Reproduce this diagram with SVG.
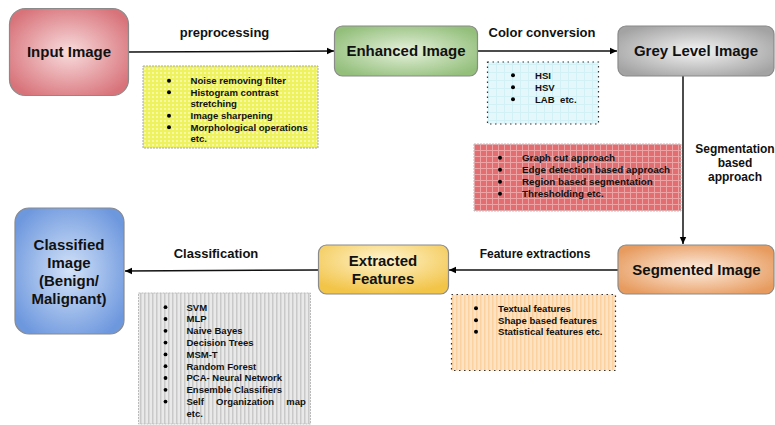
<svg xmlns="http://www.w3.org/2000/svg" width="775" height="425" viewBox="0 0 775 425">
<defs>
<radialGradient id="gPink" cx="50%" cy="50%" r="60%"><stop offset="0" stop-color="#f8dcdd"/><stop offset="1" stop-color="#d8737a"/></radialGradient>
<radialGradient id="gGreen" cx="50%" cy="50%" r="60%"><stop offset="0" stop-color="#e6f1dc"/><stop offset="1" stop-color="#93bf7b"/></radialGradient>
<radialGradient id="gGrey" cx="50%" cy="50%" r="60%"><stop offset="0" stop-color="#f4f4f4"/><stop offset="1" stop-color="#a3a3a3"/></radialGradient>
<radialGradient id="gOrange" cx="50%" cy="50%" r="60%"><stop offset="0" stop-color="#fdeee2"/><stop offset="1" stop-color="#e79b5e"/></radialGradient>
<radialGradient id="gYellow" cx="50%" cy="30%" r="70%"><stop offset="0" stop-color="#fff4cf"/><stop offset="1" stop-color="#f2c447"/></radialGradient>
<radialGradient id="gBlue" cx="50%" cy="50%" r="60%"><stop offset="0" stop-color="#d3e2f8"/><stop offset="1" stop-color="#6e98de"/></radialGradient>
<pattern id="pYel" width="4" height="4" patternUnits="userSpaceOnUse"><rect width="4" height="4" fill="#edf25e"/><rect width="2" height="2" fill="#f6f8a8"/></pattern>
<pattern id="pCyan" width="8" height="8" patternUnits="userSpaceOnUse"><rect width="8" height="8" fill="#e4f8fb"/><rect width="8" height="1" fill="#d2f1f6"/><rect width="1" height="8" fill="#d2f1f6"/></pattern>
<pattern id="pRed" width="6" height="6" patternUnits="userSpaceOnUse"><rect width="6" height="6" fill="#e36e72"/><rect width="6" height="1" fill="#eea3a5"/><rect width="1" height="6" fill="#eea3a5"/></pattern>
<pattern id="pOra" width="4" height="4" patternUnits="userSpaceOnUse"><rect width="4" height="4" fill="#fde3c3"/><rect width="1.5" height="4" fill="#fbd29f"/></pattern>
<pattern id="pGry" width="4" height="4" patternUnits="userSpaceOnUse"><rect width="4" height="4" fill="#e9e9e9"/><rect width="1.5" height="4" fill="#c9c9c9"/></pattern>
<marker id="arr" markerWidth="8" markerHeight="8" refX="7" refY="4" orient="auto" markerUnits="userSpaceOnUse"><path d="M0,0.8 L7,4 L0,7.2 Z" fill="#000"/></marker>
</defs>
<style>
.node{stroke:#8a8a8a;stroke-width:1.2}
.nt{font-family:"Liberation Sans",Arial,sans-serif;font-weight:bold;font-size:15px;fill:#111;text-anchor:middle}
.lbl{font-family:"Liberation Sans",Arial,sans-serif;font-weight:bold;font-size:13px;fill:#111;text-anchor:middle}
.li{font-family:"Liberation Sans",Arial,sans-serif;font-weight:bold;font-size:9.6px;fill:#111}
.bu circle{fill:#000}
.conn{stroke:#111;stroke-width:1.5;fill:none}
.dash{stroke:#aaa;stroke-width:1;stroke-dasharray:2 1}
.dot{stroke:#333;stroke-width:1.2;stroke-dasharray:1.5 3.5}
</style>

<g id="connectors">
<path class="conn" d="M129,52 L334,51" marker-end="url(#arr)"/>
<path class="conn" d="M478,51 L617,51" marker-end="url(#arr)"/>
<path class="conn" d="M683,76 L683,244" marker-end="url(#arr)"/>
<path class="conn" d="M618,270 L449,270" marker-end="url(#arr)"/>
<path class="conn" d="M318,270 L125,271" marker-end="url(#arr)"/>
<text class="lbl" x="224.5" y="37">preprocessing</text>
<text class="lbl" x="542" y="37">Color conversion</text>
<text class="lbl" x="735" y="153" style="font-size:12px">Segmentation</text>
<text class="lbl" x="735" y="167" style="font-size:12px">based</text>
<text class="lbl" x="735" y="181" style="font-size:12px">approach</text>
<text class="lbl" x="535" y="258" style="font-size:12px">Feature extractions</text>
<text class="lbl" x="216" y="258">Classification</text>
</g>

<g id="input-image">
<rect class="node" x="9.5" y="8.5" width="119" height="87" rx="16" fill="url(#gPink)"/>
<text class="nt" x="69" y="57">Input Image</text>
</g>
<g id="enhanced-image">
<rect class="node" x="334.5" y="26" width="143" height="50" rx="8" fill="url(#gGreen)"/>
<text class="nt" x="406" y="56">Enhanced Image</text>
</g>
<g id="grey-level-image">
<rect class="node" x="618" y="26" width="156" height="50" rx="8" fill="url(#gGrey)"/>
<text class="nt" x="696" y="56">Grey Level Image</text>
</g>
<g id="segmented-image">
<rect class="node" x="618" y="245" width="156" height="49" rx="8" fill="url(#gOrange)"/>
<text class="nt" x="696.5" y="275">Segmented Image</text>
</g>
<g id="extracted-features">
<rect class="node" x="318.5" y="245" width="130" height="49" rx="8" fill="url(#gYellow)"/>
<text class="nt" x="383" y="266">Extracted</text>
<text class="nt" x="383" y="284">Features</text>
</g>
<g id="classified-image">
<rect class="node" x="15" y="208" width="109" height="126" rx="14" fill="url(#gBlue)"/>
<text class="nt" x="69" y="250">Classified</text>
<text class="nt" x="69" y="268">Image</text>
<text class="nt" x="69" y="286">(Benign/</text>
<text class="nt" x="69" y="304">Malignant)</text>
</g>

<g id="preprocessing-list">
<rect class="dash" x="143" y="66" width="175" height="82" fill="url(#pYel)"/>
<g class="bu">
<circle cx="169" cy="80.7" r="2"/><circle cx="169" cy="92.2" r="2"/><circle cx="169" cy="115.7" r="2"/><circle cx="169" cy="127.2" r="2"/>
</g>
<g class="li">
<text x="190.5" y="84">Noise removing filter</text>
<text x="190.5" y="95.5">Histogram contrast</text>
<text x="190.5" y="106.5">stretching</text>
<text x="190.5" y="119">Image sharpening</text>
<text x="190.5" y="130.5">Morphological operations</text>
<text x="190.5" y="142">etc.</text>
</g>
</g>
<g id="color-list">
<rect class="dot" x="487.5" y="62" width="111" height="62" fill="url(#pCyan)"/>
<g class="bu">
<circle cx="513" cy="75.2" r="2"/><circle cx="513" cy="87.2" r="2"/><circle cx="513" cy="99.2" r="2"/>
</g>
<g class="li">
<text x="535" y="78.5">HSI</text>
<text x="535" y="90.5">HSV</text>
<text x="535" y="102.5" xml:space="preserve">LAB  etc.</text>
</g>
</g>
<g id="segmentation-list">
<rect class="dash" x="474" y="144" width="207" height="67" fill="url(#pRed)" style="stroke:#bbb"/>
<g class="bu">
<circle cx="500" cy="157.7" r="2"/><circle cx="500" cy="169.7" r="2"/><circle cx="500" cy="181.7" r="2"/><circle cx="500" cy="193.7" r="2"/>
</g>
<g class="li" style="font-size:9.8px">
<text x="522" y="161">Graph cut approach</text>
<text x="522" y="173">Edge detection based approach</text>
<text x="522" y="185">Region based segmentation</text>
<text x="522" y="197">Thresholding etc.</text>
</g>
</g>
<g id="feature-list">
<rect class="dot" x="451.5" y="294.5" width="164" height="76" fill="url(#pOra)"/>
<g class="bu">
<circle cx="476" cy="308.2" r="2"/><circle cx="476" cy="320.2" r="2"/><circle cx="476" cy="331.7" r="2"/>
</g>
<g class="li">
<text x="498" y="311.5">Textual features</text>
<text x="498" y="323.5">Shape based features</text>
<text x="498" y="335">Statistical features etc.</text>
</g>
</g>
<g id="classifier-list">
<rect class="dash" x="138.5" y="293" width="172" height="131" fill="url(#pGry)" style="stroke:#bbb"/>
<g class="bu">
<circle cx="165.5" cy="307.2" r="1.9"/><circle cx="165.5" cy="319" r="1.9"/><circle cx="165.5" cy="330.8" r="1.9"/><circle cx="165.5" cy="342.6" r="1.9"/><circle cx="165.5" cy="354.4" r="1.9"/><circle cx="165.5" cy="366.2" r="1.9"/><circle cx="165.5" cy="378" r="1.9"/><circle cx="165.5" cy="389.8" r="1.9"/><circle cx="165.5" cy="401.6" r="1.9"/>
</g>
<g class="li" style="font-size:9.5px">
<text x="186.5" y="310.5">SVM</text>
<text x="186.5" y="322.3">MLP</text>
<text x="186.5" y="334.1">Naive Bayes</text>
<text x="186.5" y="345.9">Decision Trees</text>
<text x="186.5" y="357.7">MSM-T</text>
<text x="186.5" y="369.5">Random Forest</text>
<text x="186.5" y="381.3">PCA- Neural Network</text>
<text x="186.5" y="393.1">Ensemble Classifiers</text>
<text x="186.5" y="404.9" word-spacing="9.5">Self Organization map</text>
<text x="186.5" y="416.7">etc.</text>
</g>
</g>
</svg>
